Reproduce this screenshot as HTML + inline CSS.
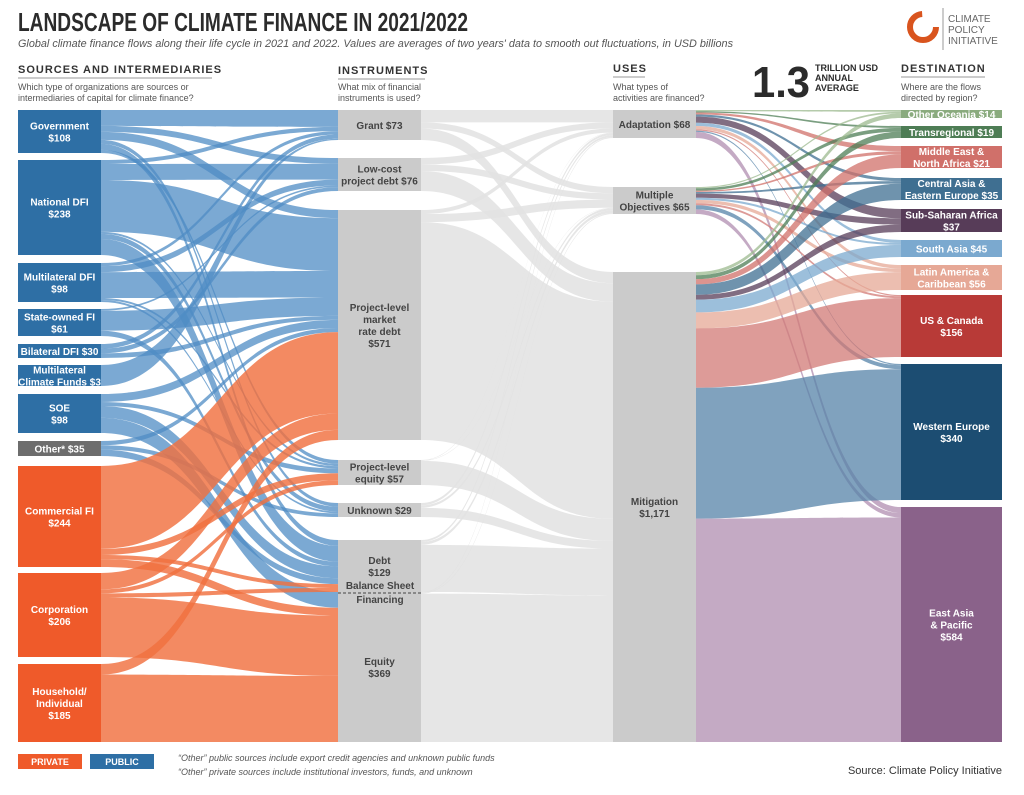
<!DOCTYPE html>
<html><head><meta charset="utf-8">
<style>
body{margin:0;background:#fff;width:1024px;height:790px;overflow:hidden;font-family:"Liberation Sans",sans-serif}
svg text{font-family:"Liberation Sans",sans-serif}
</style></head><body>
<svg id="s" width="1024" height="790" viewBox="0 0 1024 790" xmlns="http://www.w3.org/2000/svg">
<text x="18" y="31" font-size="26" font-weight="bold" fill="#2b2b2b" textLength="450" lengthAdjust="spacingAndGlyphs">LANDSCAPE OF CLIMATE FINANCE IN 2021/2022</text>
<text x="18" y="47" font-size="11" font-style="italic" fill="#555" textLength="715" lengthAdjust="spacingAndGlyphs">Global climate finance flows along their life cycle in 2021 and 2022. Values are averages of two years' data to smooth out fluctuations, in USD billions</text>
<circle cx="923" cy="27" r="13" fill="none" stroke="#d9541e" stroke-width="6" stroke-dasharray="60 22"/>
<line x1="943" y1="8" x2="943" y2="50" stroke="#999"/>
<text x="948" y="22" font-size="10" fill="#666" font-family="Liberation Serif">CLIMATE</text>
<text x="948" y="33" font-size="10" fill="#666" font-family="Liberation Serif">POLICY</text>
<text x="948" y="44" font-size="10" fill="#666" font-family="Liberation Serif">INITIATIVE</text>
<g font-size="11" font-weight="bold" fill="#333" letter-spacing="1">
<text x="18" y="73">SOURCES AND INTERMEDIARIES</text>
<text x="338" y="74">INSTRUMENTS</text>
<text x="613" y="72">USES</text>
<text x="901" y="72">DESTINATION</text></g>
<g stroke="#999"><line x1="18" y1="78" x2="212" y2="78"/><line x1="338" y1="79" x2="425" y2="79"/><line x1="613" y1="77" x2="645" y2="77"/><line x1="901" y1="77" x2="985" y2="77"/></g>
<g font-size="9" fill="#555">
<text x="18" y="90">Which type of organizations are sources or</text>
<text x="18" y="101">intermediaries of capital for climate finance?</text>
<text x="338" y="90">What mix of financial</text><text x="338" y="101">instruments is used?</text>
<text x="613" y="90">What types of</text><text x="613" y="101">activities are financed?</text>
<text x="901" y="90">Where are the flows</text><text x="901" y="101">directed by region?</text></g>
<text x="752" y="97" font-size="44" font-weight="bold" fill="#2b2b2b" textLength="58" lengthAdjust="spacingAndGlyphs">1.3</text>
<g font-size="9" font-weight="bold" fill="#2b2b2b"><text x="815" y="71">TRILLION USD</text><text x="815" y="81">ANNUAL</text><text x="815" y="91">AVERAGE</text></g>
<g id="flows"></g>
<g id="nodes"></g>
<rect x="18" y="754" width="64" height="15" fill="#ef5a2a"/><text x="50" y="765" font-size="9" font-weight="bold" fill="#fff" text-anchor="middle">PRIVATE</text>
<rect x="90" y="754" width="64" height="15" fill="#2e6fa5"/><text x="122" y="765" font-size="9" font-weight="bold" fill="#fff" text-anchor="middle">PUBLIC</text>
<g font-size="9" font-style="italic" fill="#555"><text x="178" y="761">“Other” public sources include export credit agencies and unknown public funds</text><text x="178" y="775">“Other” private sources include institutional investors, funds, and unknown</text></g>
<text x="1002" y="774" font-size="11" fill="#333" text-anchor="end">Source: Climate Policy Initiative</text>
</svg>
<script>
const NS="http://www.w3.org/2000/svg";
const N={
gov:[18,101,110,153,"#2e6fa5",["Government","$108"]],
ndfi:[18,101,160,255,"#2e6fa5",["National DFI","$238"]],
mdfi:[18,101,263,302,"#2e6fa5",["Multilateral DFI","$98"]],
sofi:[18,101,309,336,"#2e6fa5",["State-owned FI","$61"]],
bdfi:[18,101,344,358,"#2e6fa5",["Bilateral DFI $30"]],
mcf:[18,101,365,386,"#2e6fa5",["Multilateral","Climate Funds $3"]],
soe:[18,101,394,433,"#2e6fa5",["SOE","$98"]],
oth:[18,101,441,456,"#6d6d6d",["Other* $35"]],
cfi:[18,101,466,567,"#ef5a2a",["Commercial FI","$244"]],
corp:[18,101,573,657,"#ef5a2a",["Corporation","$206"]],
hh:[18,101,664,742,"#ef5a2a",["Household/","Individual","$185"]],
grant:[338,421,110,140,"#cbcbcb",["Grant $73"]],
low:[338,421,158,191,"#cbcbcb",["Low-cost","project debt $76"]],
mkt:[338,421,210,440,"#cbcbcb",["Project-level","market","rate debt","$571"]],
pleq:[338,421,460,485,"#cbcbcb",["Project-level","equity $57"]],
unk:[338,421,503,517,"#cbcbcb",["Unknown $29"]],
debt:[338,421,540,592,"#cbcbcb",["Debt","$129"]],
eq:[338,421,592,742,"#cbcbcb",["Equity","$369"]],
ada:[613,696,110,138,"#cbcbcb",["Adaptation $68"]],
mul:[613,696,187,214,"#cbcbcb",["Multiple","Objectives $65"]],
mit:[613,696,272,742,"#cbcbcb",["Mitigation","$1,171"]],
oce:[901,1002,110,118,"#8aab7e",["Other Oceania $14"]],
tra:[901,1002,126,138,"#4e7d55",["Transregional $19"]],
mena:[901,1002,146,168,"#d0706a",["Middle East &","North Africa $21"]],
ca:[901,1002,178,200,"#3f6f91",["Central Asia &","Eastern Europe $35"]],
ssa:[901,1002,209,232,"#573c58",["Sub-Saharan Africa","$37"]],
sa:[901,1002,240,257,"#7ba9cf",["South Asia $45"]],
la:[901,1002,265,290,"#e6a896",["Latin America &","Caribbean $56"]],
us:[901,1002,295,357,"#b83a37",["US & Canada","$156"]],
we:[901,1002,364,500,"#1c4d72",["Western Europe","$340"]],
ea:[901,1002,507,742,"#8a628a",["East Asia","& Pacific","$584"]]};
const B="#4f8cc4",O="#f0703f",G="#e2e2e2";
const F=[
["gov","grant",40,B],["gov","low",15,B],["gov","mkt",20,B],["gov","unk",10,B],["gov","debt",15,B],["gov","pleq",8,B],
["ndfi","grant",10,B],["ndfi","low",40,B],["ndfi","mkt",130,B],["ndfi","pleq",5,B],["ndfi","unk",13,B],["ndfi","debt",40,B],
["mdfi","grant",8,B],["mdfi","low",15,B],["mdfi","mkt",65,B],["mdfi","pleq",5,B],["mdfi","unk",5,B],
["sofi","low",4,B],["sofi","mkt",45,B],["sofi","debt",12,B],
["bdfi","grant",10,B],["bdfi","low",10,B],["bdfi","mkt",10,B],
["mcf","grant",3,B],
["soe","mkt",20,B],["soe","pleq",10,B],["soe","debt",30,B],["soe","eq",38,B],
["oth","mkt",10,B],["oth","unk",10,B],["oth","debt",15,B],
["cfi","mkt",200,O],["cfi","pleq",15,O],["cfi","debt",10,O],["cfi","eq",19,O],
["corp","mkt",40,O],["corp","pleq",10,O],["corp","debt",10,O],["corp","eq",146,O],
["hh","mkt",25,O],["hh","eq",160,O],
["grant","ada",30,G],["grant","mul",15,G],["grant","mit",28,G],
["low","ada",15,G],["low","mul",15,G],["low","mit",46,G],
["mkt","ada",10,G],["mkt","mul",20,G],["mkt","mit",541,G],
["pleq","ada",1,G],["pleq","mul",1,G],["pleq","mit",55,G],
["unk","ada",5,G],["unk","mul",5,G],["unk","mit",19,G],
["debt","ada",5,G],["debt","mul",7,G],["debt","mit",117,G],
["eq","ada",2,G],["eq","mul",2,G],["eq","mit",365,G]];
const dc={oce:"#9cb98f",tra:"#4e7d55",mena:"#d0706a",ca:"#3f6f91",ssa:"#573c58",sa:"#7ba9cf",la:"#e6a896",us:"#d17a76",we:"#5583a8",ea:"#b08eb0"};
const dv={ada:[3,3,5,5,15,8,8,3,3,15],mul:[3,6,3,4,10,5,8,5,10,11],mit:[8,10,13,26,12,32,40,148,327,558]};
const dk=["oce","tra","mena","ca","ssa","sa","la","us","we","ea"];
for(const u of ["ada","mul","mit"])dk.forEach((d,i)=>F.push([u,d,dv[u][i],dc[d]]));
const out={},inn={};
F.forEach(f=>{out[f[0]]=(out[f[0]]||0)+f[2];inn[f[1]]=(inn[f[1]]||0)+f[2];});
const co={},ci={};
const fg=document.getElementById("flows"),ng=document.getElementById("nodes");
F.forEach(f=>{const a=N[f[0]],b=N[f[1]];
const ha=(a[3]-a[2])*f[2]/out[f[0]],hb=(b[3]-b[2])*f[2]/inn[f[1]];
const y0=a[2]+(co[f[0]]||0),y1=b[2]+(ci[f[1]]||0);co[f[0]]=(co[f[0]]||0)+ha;ci[f[1]]=(ci[f[1]]||0)+hb;
const x0=a[1],x1=b[0],m=(x0+x1)/2;
const p=document.createElementNS(NS,"path");
p.setAttribute("d",`M${x0},${y0}C${m},${y0} ${m},${y1} ${x1},${y1}L${x1},${y1+hb}C${m},${y1+hb} ${m},${y0+ha} ${x0},${y0+ha}Z`);
p.setAttribute("fill",f[3]);p.setAttribute("fill-opacity",f[3]==G?0.85:(f[3]==O?0.82:0.75));fg.appendChild(p);});
for(const k in N){const n=N[k];const r=document.createElementNS(NS,"rect");
r.setAttribute("x",n[0]);r.setAttribute("y",n[2]);r.setAttribute("width",n[1]-n[0]);r.setAttribute("height",n[3]-n[2]);r.setAttribute("fill",n[4]);ng.appendChild(r);
const L=n[5],lh=12,cy=(n[2]+n[3])/2;const gray=n[4]=="#cbcbcb";
L.forEach((t,i)=>{const e=document.createElementNS(NS,"text");e.setAttribute("x",(n[0]+n[1])/2);
e.setAttribute("y",cy-(L.length-1)*lh/2+i*lh+4);e.setAttribute("text-anchor","middle");e.setAttribute("font-size","10");e.setAttribute("font-weight","bold");
e.setAttribute("fill",gray?"#444":"#fff");e.textContent=t;ng.appendChild(e);});}
const d=document.createElementNS(NS,"line");d.setAttribute("x1",338);d.setAttribute("x2",421);d.setAttribute("y1",593);d.setAttribute("y2",593);d.setAttribute("stroke","#444");d.setAttribute("stroke-dasharray","3 2");ng.appendChild(d);
const t=document.createElementNS(NS,"text");t.setAttribute("x",380);t.setAttribute("y",589);t.setAttribute("text-anchor","middle");t.setAttribute("font-size","10");t.setAttribute("font-weight","bold");t.setAttribute("fill","#444");t.textContent="Balance Sheet";ng.appendChild(t);
const t2=t.cloneNode();t2.setAttribute("y",603);t2.textContent="Financing";ng.appendChild(t2);
</script>
</body></html>
